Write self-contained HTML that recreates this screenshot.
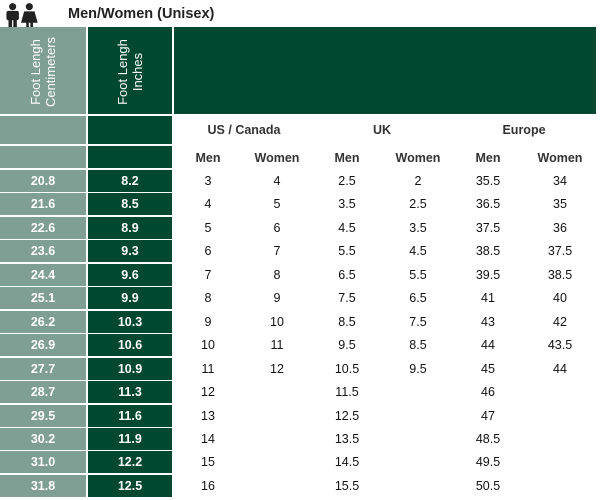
<!DOCTYPE html>
<html><head><meta charset="utf-8"><style>
*{margin:0;padding:0;box-sizing:border-box}
body{width:600px;height:500px;background:#fff;position:relative;overflow:hidden;font-family:"Liberation Sans",Arial,sans-serif;}
.a{position:absolute}
.l{background:#7f9e94}
.d{background:#00482f}
.c{position:absolute;color:#fff;font-weight:bold;font-size:12.5px;text-align:center;}
.t{position:absolute;font-size:12.5px;color:#111;text-align:center;width:60px;margin-left:-30px}
.h{font-weight:bold;color:#333}
</style></head><body>
<svg class="a" style="left:3px;top:3px" width="36" height="25" viewBox="0 0 34 24">
<circle cx="9" cy="3.5" r="3.4" fill="#222"/><rect x="3" y="7.5" width="12" height="9" rx="2" fill="#222"/><rect x="5" y="15" width="3.4" height="9" fill="#222"/><rect x="9.6" y="15" width="3.4" height="9" fill="#222"/>
<circle cx="25" cy="3.5" r="3.4" fill="#222"/><path d="M20 8h10l3 11h-16z" fill="#222"/><rect x="22" y="18" width="2.5" height="6" fill="#222"/><rect x="26" y="18" width="2.5" height="6" fill="#222"/>
</svg>
<div class="a" style="left:68px;top:6px;font-size:14.5px;font-weight:bold;color:#222">Men/Women (Unisex)</div>
<div class="a l" style="left:0;top:27px;width:86px;height:87px"></div>
<div class="a d" style="left:88px;top:27px;width:84px;height:87px"></div>
<div class="a d" style="left:174px;top:27px;width:422px;height:87px"></div>
<div class="a" style="left:43px;top:72px;transform:translate(-50%,-50%) rotate(-90deg);color:#fff;font-size:13px;text-align:center;line-height:15px;white-space:nowrap">Foot Lengh<br>Centimeters</div>
<div class="a" style="left:130px;top:72px;transform:translate(-50%,-50%) rotate(-90deg);color:#fff;font-size:13px;text-align:center;line-height:15px;white-space:nowrap">Foot Lengh<br>Inches</div>
<div class="a l" style="left:0;top:116px;width:86px;height:28px"></div>
<div class="a d" style="left:88px;top:116px;width:84px;height:28px"></div>
<div class="a l" style="left:0;top:146px;width:86px;height:22px"></div>
<div class="a d" style="left:88px;top:146px;width:84px;height:22px"></div>
<div class="t h" style="left:244px;top:123px;width:100px;margin-left:-50px">US / Canada</div>
<div class="t h" style="left:382px;top:123px">UK</div>
<div class="t h" style="left:524px;top:123px">Europe</div>
<div class="t h" style="left:208px;top:151px">Men</div>
<div class="t h" style="left:277px;top:151px">Women</div>
<div class="t h" style="left:347px;top:151px">Men</div>
<div class="t h" style="left:418px;top:151px">Women</div>
<div class="t h" style="left:488px;top:151px">Men</div>
<div class="t h" style="left:560px;top:151px">Women</div>
<div id="rows"></div>
<script>
var d=[["20.8","8.2","3","4","2.5","2","35.5","34"],["21.6","8.5","4","5","3.5","2.5","36.5","35"],["22.6","8.9","5","6","4.5","3.5","37.5","36"],["23.6","9.3","6","7","5.5","4.5","38.5","37.5"],["24.4","9.6","7","8","6.5","5.5","39.5","38.5"],["25.1","9.9","8","9","7.5","6.5","41","40"],["26.2","10.3","9","10","8.5","7.5","43","42"],["26.9","10.6","10","11","9.5","8.5","44","43.5"],["27.7","10.9","11","12","10.5","9.5","45","44"],["28.7","11.3","12","","11.5","","46",""],["29.5","11.6","13","","12.5","","47",""],["30.2","11.9","14","","13.5","","48.5",""],["31.0","12.2","15","","14.5","","49.5",""],["31.8","12.5","16","","15.5","","50.5",""]];
var xs=[208,277,347,418,488,560],h="";
d.forEach(function(r,i){var y=(170+i*23.45).toFixed(1);
h+='<div class="a l" style="left:0;top:'+y+'px;width:86px;height:22px"></div><div class="a d" style="left:88px;top:'+y+'px;width:84px;height:22px"></div>';
h+='<div class="c" style="left:0;width:86px;top:'+(+y+4)+'px">'+r[0]+'</div><div class="c" style="left:88px;width:84px;top:'+(+y+4)+'px">'+r[1]+'</div>';
for(var j=0;j<6;j++)h+='<div class="t" style="left:'+xs[j]+'px;top:'+(+y+4)+'px">'+r[j+2]+'</div>';});
document.getElementById("rows").innerHTML=h;
</script>
</body></html>
